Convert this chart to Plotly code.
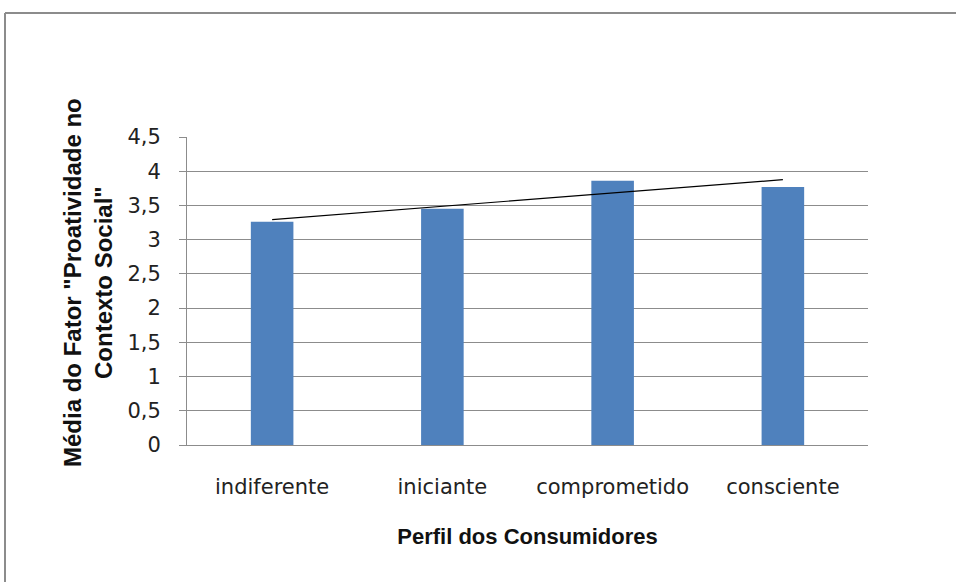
import numpy as np
import plotly.graph_objects as go

categories = ["indiferente", "iniciante", "comprometido", "consciente"]
values = [3.26, 3.45, 3.86, 3.77]
y_ticks = [0, 0.5, 1, 1.5, 2, 2.5, 3, 3.5, 4, 4.5]
y_tick_labels = ["0", "0,5", "1", "1,5", "2", "2,5", "3", "3,5", "4", "4,5"]

# linear trendline (least squares) across category index
idx = np.arange(1, len(values) + 1)
slope, intercept = np.polyfit(idx, values, 1)
trend = slope * idx + intercept

tick_font = "DejaVu Sans, Liberation Sans, sans-serif"
title_font = "Liberation Sans, Arial, sans-serif"

fig = go.Figure()
fig.add_trace(go.Bar(x=categories, y=values, marker=dict(color="#4F81BD", line=dict(width=0)),
                     width=0.25, showlegend=False, hoverinfo="skip"))
fig.add_trace(go.Scatter(x=[categories[0], categories[-1]], y=[trend[0], trend[-1]], mode="lines",
                         line=dict(color="#000000", width=1.2), showlegend=False, hoverinfo="skip"))

W, H = 956, 582
L, R, T, B = 187, 88, 137, 137
pw, ph = W - L - R, H - T - B


def px(x):
    return (x - L) / pw


def py(y):
    return (H - B - y) / ph


border = "#8c8c8c"
fig.update_layout(
    width=W, height=H,
    margin=dict(l=L, r=R, t=T, b=B),
    paper_bgcolor="white", plot_bgcolor="white",
    font=dict(family=tick_font, size=21, color="#222222"),
    xaxis=dict(
        showline=True, linecolor=border, linewidth=1,
        showgrid=False, ticks="", tickfont=dict(size=21, color="#222222"),
        ticklabelstandoff=23,
        title=dict(text="<b>Perfil dos Consumidores</b>",
                   font=dict(family=title_font, size=22, color="#111111"), standoff=30),
    ),
    yaxis=dict(
        range=[0, 4.5], tickvals=y_ticks, ticktext=y_tick_labels,
        showgrid=True, gridcolor=border, gridwidth=1,
        showline=True, linecolor=border, linewidth=1,
        ticks="outside", ticklen=7, tickcolor=border,
        ticklabelstandoff=14,
        tickfont=dict(size=21, color="#222222"),
        zeroline=False,
    ),
    annotations=[
        dict(text='<b>Média do Fator "Proatividade no<br>Contexto Social"</b>',
             xref="paper", yref="paper", x=px(88), y=py(283),
             xanchor="center", yanchor="middle", textangle=-90, showarrow=False,
             font=dict(family=title_font, size=24, color="#111111")),
    ],
    shapes=[
        dict(type="line", xref="paper", yref="paper",
             x0=px(5), x1=px(W + 10), y0=py(13), y1=py(13),
             line=dict(color=border, width=2), layer="below"),
        dict(type="line", xref="paper", yref="paper",
             x0=px(5), x1=px(5), y0=py(13), y1=py(H + 10),
             line=dict(color=border, width=2), layer="below"),
    ],
)

fig.write_html("out.html", config={"displayModeBar": False},
               post_script="document.body.style.margin='0';document.body.style.overflow='hidden';")
